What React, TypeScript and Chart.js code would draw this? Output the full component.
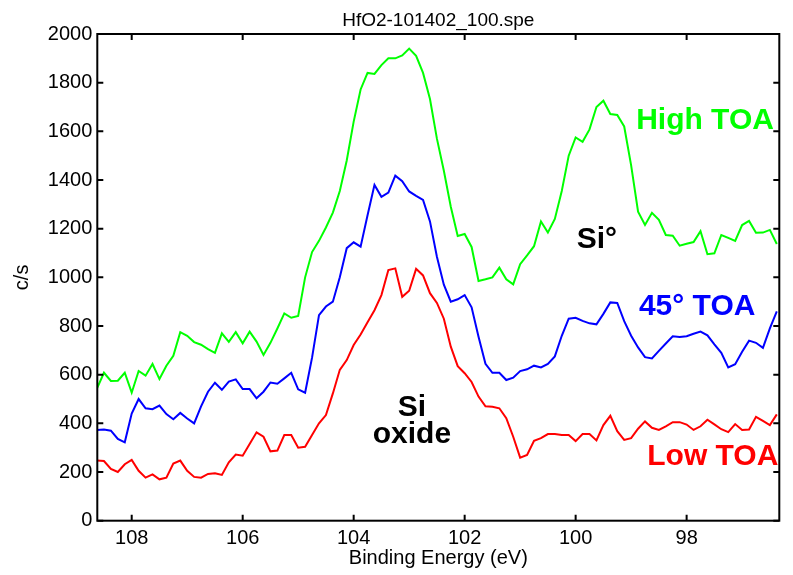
import React, { useEffect, useRef } from "react";
import { Chart, registerables } from "chart.js";

Chart.register(...registerables);

// Binding energy grid (eV)
const energies = [
  108.625, 108.5, 108.375, 108.25, 108.125, 108, 107.875, 107.75, 107.625, 107.5,
  107.375, 107.25, 107.125, 107, 106.875, 106.75, 106.625, 106.5, 106.375, 106.25,
  106.125, 106, 105.875, 105.75, 105.625, 105.5, 105.375, 105.25, 105.125, 105,
  104.875, 104.75, 104.625, 104.5, 104.375, 104.25, 104.125, 104, 103.875, 103.75,
  103.625, 103.5, 103.375, 103.25, 103.125, 103, 102.875, 102.75, 102.625, 102.5,
  102.375, 102.25, 102.125, 102, 101.875, 101.75, 101.625, 101.5, 101.375, 101.25,
  101.125, 101, 100.875, 100.75, 100.625, 100.5, 100.375, 100.25, 100.125, 100,
  99.875, 99.75, 99.625, 99.5, 99.375, 99.25, 99.125, 99, 98.875, 98.75,
  98.625, 98.5, 98.375, 98.25, 98.125, 98, 97.875, 97.75, 97.625, 97.5,
  97.375, 97.25, 97.125, 97, 96.875, 96.75, 96.625, 96.5, 96.375,
];

const highTOA = [
  544, 608, 574, 575, 608, 526, 615, 596, 644, 582,
  637, 678, 775, 760, 734, 723, 705, 690, 770, 735,
  775, 729, 777, 736, 681, 731, 790, 852, 834, 841,
  1000, 1104, 1150, 1205, 1266, 1355, 1480, 1640, 1772, 1840,
  1836, 1872, 1900, 1900, 1912, 1940, 1910, 1840, 1733, 1570,
  1438, 1290, 1170, 1178, 1125, 985, 992, 1000, 1040, 992,
  971, 1054, 1090, 1128, 1230, 1184, 1240, 1355, 1500, 1575,
  1557, 1608, 1700, 1726, 1671, 1667, 1620, 1460, 1270, 1215,
  1265, 1236, 1174, 1171, 1130, 1138, 1145, 1190, 1095, 1099,
  1174, 1162, 1150, 1215, 1232, 1183, 1184, 1195, 1137,
];

const toa45 = [
  373, 375, 370, 336, 322, 440, 500, 462, 458, 473,
  438, 417, 443, 420, 400, 470, 530, 567, 538, 572,
  581, 541, 541, 503, 530, 568, 563, 585, 608, 540,
  526, 670, 845, 880, 900, 1000, 1120, 1144, 1126, 1255,
  1380, 1331, 1348, 1418, 1395, 1353, 1335, 1318, 1230, 1085,
  970, 900, 910, 927, 877, 756, 645, 608, 608, 578,
  588, 615, 622, 637, 630, 644, 675, 760, 830, 834,
  821, 811, 807, 850, 897, 895, 820, 760, 712, 672,
  667, 698, 728, 758, 755, 758, 768, 777, 762, 725,
  690, 630, 643, 694, 740, 731, 710, 790, 860,
];

const lowTOA = [
  247, 245, 213, 200, 232, 250, 205, 177, 190, 170,
  177, 235, 247, 205, 180, 177, 192, 195, 188, 240,
  272, 267, 315, 363, 345, 285, 288, 352, 352, 300,
  304, 352, 400, 434, 523, 620, 660, 722, 765, 815,
  865, 927, 1030, 1037, 920, 945, 1035, 1008, 935, 895,
  830, 715, 635, 606, 570, 510, 470, 468, 462, 421,
  345, 259, 270, 328, 339, 356, 356, 352, 352, 327,
  356, 356, 330, 393, 431, 368, 332, 339, 378, 408,
  382, 373, 388, 405, 405, 395, 373, 388, 415, 396,
  376, 364, 397, 373, 375, 427, 410, 393, 437,
];

const xTicks = [108, 106, 104, 102, 100, 98];
const yTicks = [0, 200, 400, 600, 800, 1000, 1200, 1400, 1600, 1800, 2000];

const titleText = "HfO2-101402_100.spe";
const xLabel = "Binding Energy (eV)";
const yLabel = "c/s";

const labelTexts = ["High TOA", "45° TOA", "Low TOA", "Si°", "Si", "oxide"];
const labelEnergies = [98.91, 98.86, 98.71, 99.98, 102.95, 102.95];
const labelCounts = [1608, 845, 229, 1119, 431, 318];
const labelColors = ["#00ff00", "#0000ff", "#ff0000", "#000000", "#000000", "#000000"];
const labelAligns = ["left", "left", "left", "left", "center", "center"];

const FONT = '"Liberation Sans", Arial, Helvetica, sans-serif';

const framePlugin = {
  id: "frame",
  afterDatasetsDraw(chart: any) {
    const { ctx, chartArea: a, scales } = chart;
    const x = scales.x;
    const y = scales.y;
    ctx.save();
    // annotations
    ctx.font = `bold 30px ${FONT}`;
    ctx.textBaseline = "alphabetic";
    labelTexts.forEach((t, i) => {
      ctx.fillStyle = labelColors[i];
      ctx.textAlign = labelAligns[i];
      ctx.fillText(t, x.getPixelForValue(labelEnergies[i]), y.getPixelForValue(labelCounts[i]));
    });
    // frame
    ctx.strokeStyle = "#000";
    ctx.lineWidth = 2;
    ctx.strokeRect(a.left, a.top, a.right - a.left, a.bottom - a.top);
    const tl = 6;
    ctx.beginPath();
    xTicks.forEach((v) => {
      const px = x.getPixelForValue(v);
      ctx.moveTo(px, a.bottom);
      ctx.lineTo(px, a.bottom - tl);
      ctx.moveTo(px, a.top);
      ctx.lineTo(px, a.top + tl);
    });
    yTicks.forEach((v) => {
      const py = y.getPixelForValue(v);
      ctx.moveTo(a.left, py);
      ctx.lineTo(a.left + tl, py);
      ctx.moveTo(a.right, py);
      ctx.lineTo(a.right - tl, py);
    });
    ctx.stroke();
    // title and axis labels
    ctx.fillStyle = "#000";
    ctx.textAlign = "center";
    ctx.font = `19px ${FONT}`;
    ctx.fillText(titleText, (a.left + a.right) / 2, 26);
    ctx.font = `20px ${FONT}`;
    ctx.fillText(xLabel, (a.left + a.right) / 2, 564);
    ctx.translate(22, (a.top + a.bottom) / 2);
    ctx.rotate(-Math.PI / 2);
    ctx.textBaseline = "middle";
    ctx.fillText(yLabel, 0, 0);
    ctx.restore();
  },
};

export default function App() {
  const ref = useRef<HTMLCanvasElement | null>(null);
  useEffect(() => {
    document.body.style.margin = "0";
    const canvas = ref.current;
    if (!canvas) return;
    const chart = new Chart(canvas, {
      type: "line",
      data: {
        datasets: [
          {
            label: "High TOA",
            data: energies.map((e, i) => ({ x: e, y: highTOA[i] })),
            borderColor: "#00ff00",
            borderWidth: 2,
            pointRadius: 0,
            tension: 0,
          },
          {
            label: "45° TOA",
            data: energies.map((e, i) => ({ x: e, y: toa45[i] })),
            borderColor: "#0000ff",
            borderWidth: 2,
            pointRadius: 0,
            tension: 0,
          },
          {
            label: "Low TOA",
            data: energies.map((e, i) => ({ x: e, y: lowTOA[i] })),
            borderColor: "#ff0000",
            borderWidth: 2,
            pointRadius: 0,
            tension: 0,
          },
        ],
      },
      options: {
        animation: false,
        responsive: false,
        devicePixelRatio: 1,
        layout: { padding: { left: 0, top: 34, right: 13.7, bottom: 0 } },
        plugins: { legend: { display: false }, tooltip: { enabled: false }, title: { display: false } },
        scales: {
          x: {
            type: "linear",
            reverse: true,
            min: 96.33,
            max: 108.62,
            grid: { display: false, drawTicks: false },
            border: { display: false },
            afterBuildTicks: (s: any) => {
              s.ticks = xTicks.map((v) => ({ value: v }));
            },
            afterFit: (s: any) => {
              s.height = 575 - 520.7;
            },
            ticks: {
              color: "#000",
              padding: 6,
              maxRotation: 0,
              autoSkip: false,
              font: { family: FONT, size: 20 },
              callback: (v: any) => String(v),
            },
          },
          y: {
            min: 0,
            max: 2000,
            grid: { display: false, drawTicks: false },
            border: { display: false },
            afterBuildTicks: (s: any) => {
              s.ticks = yTicks.map((v) => ({ value: v }));
            },
            afterFit: (s: any) => {
              s.width = 97.3;
            },
            ticks: {
              color: "#000",
              padding: 5,
              font: { family: FONT, size: 20 },
              callback: (v: any) => String(v),
            },
          },
        },
      },
      plugins: [framePlugin],
    });
    return () => chart.destroy();
  }, []);
  return (
    <div style={{ position: "fixed", left: 0, top: 0, width: 793, height: 575, background: "#fff" }}>
      <canvas ref={ref} width={793} height={575} style={{ width: 793, height: 575, display: "block" }} />
    </div>
  );
}
